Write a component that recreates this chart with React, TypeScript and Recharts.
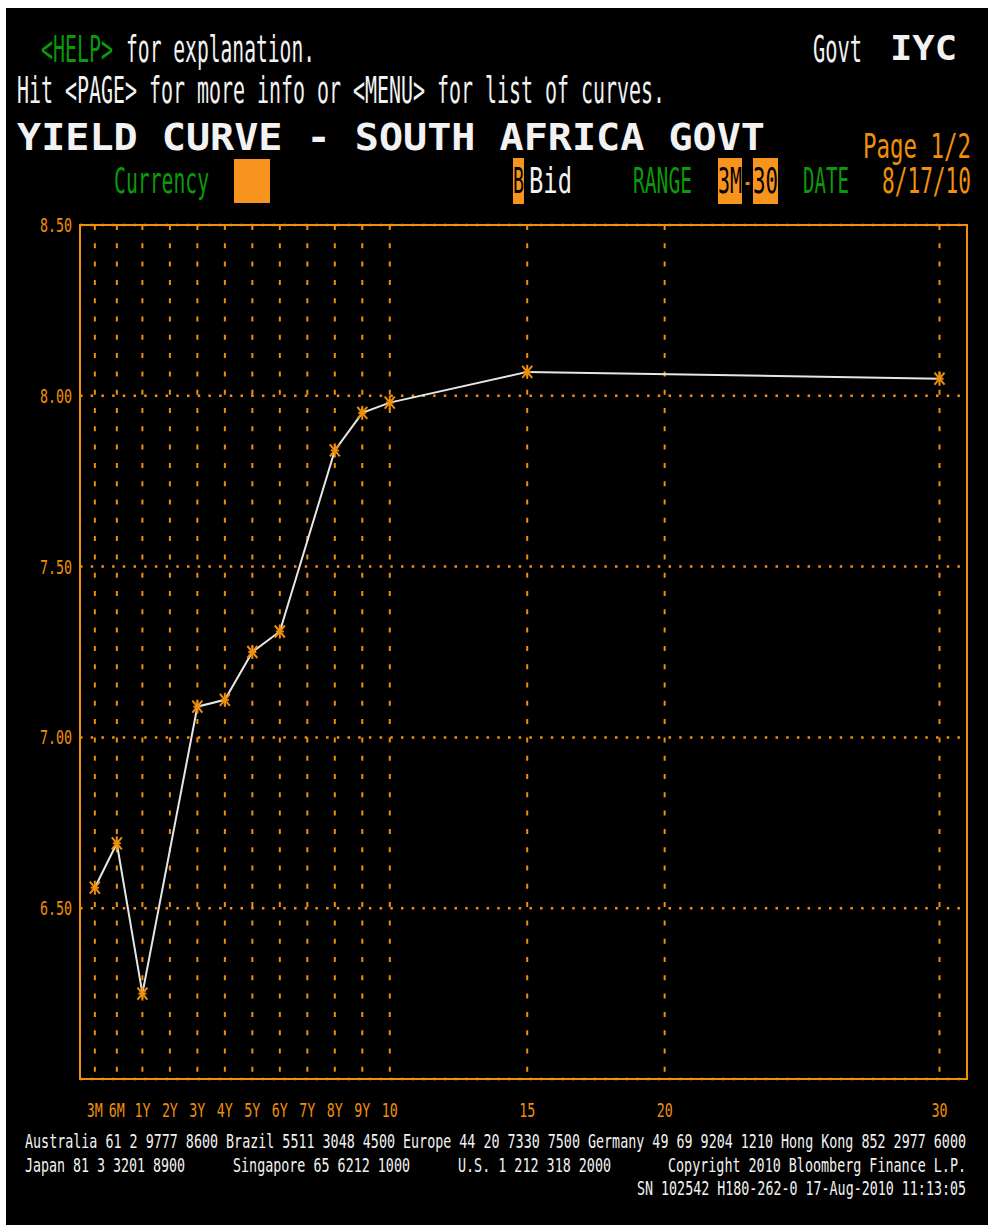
import React from 'react';
import { LineChart, Line, XAxis, YAxis, CartesianGrid, ReferenceArea } from 'recharts';

// Tenors on the Bloomberg IYC axis (axis position in years-equivalent)
const tenorLabels = ['3M', '6M', '1Y', '2Y', '3Y', '4Y', '5Y', '6Y', '7Y', '8Y', '9Y', '10', '15', '20', '30'];
const tenorPos = [-0.73, 0.07, 1, 2, 3, 4, 5, 6, 7, 8, 9, 10, 15, 20, 30];
// Bid yields, South Africa govt, 8/17/10 (null = no bond at that tenor)
const bidYield: (number | null)[] = [6.56, 6.69, 6.25, null, 7.09, 7.11, 7.25, 7.31, null, 7.84, 7.95, 7.98, 8.07, null, 8.05];

const yTicks = [6.5, 7.0, 7.5, 8.0, 8.5];
const xDomain = [-1.27, 31];
const yDomain = [6.0, 8.5];

const ORANGE = '#ef8f0c';
const BOX = '#f7941d';
const GREEN = '#0a9a0a';
const WHITE = '#f2f2f2';
const MONO = '"DejaVu Sans Mono", "Liberation Mono", monospace';

const data = tenorPos.map((pos, i) => ({ pos, label: tenorLabels[i], bid: bidYield[i] }));

// text squeezed into a known width, like the terminal font
const T = ({ x, y, w, size, color, bold, children }: any) => (
  <text
    x={x}
    y={y}
    textLength={w}
    lengthAdjust="spacingAndGlyphs"
    fontFamily={MONO}
    fontSize={size}
    fontWeight={bold ? 'bold' : 'normal'}
    fill={color}
  >
    {children}
  </text>
);

const Star = (props: any) => {
  const { cx, cy, payload } = props;
  if (payload.bid == null || cx == null) return null;
  return (
    <g stroke={ORANGE} strokeWidth={2}>
      <line x1={cx} y1={cy - 7} x2={cx} y2={cy + 7} />
      <line x1={cx - 5} y1={cy - 6} x2={cx + 5} y2={cy + 6} />
      <line x1={cx + 5} y1={cy - 6} x2={cx - 5} y2={cy + 6} />
      <line x1={cx - 4} y1={cy} x2={cx + 4} y2={cy} />
    </g>
  );
};

const XTick = ({ x, y, payload }: any) => {
  const label = tenorLabels[tenorPos.indexOf(payload.value)];
  return (
    <text
      x={x}
      y={y + 38}
      textAnchor="middle"
      textLength={label.length * 8}
      lengthAdjust="spacingAndGlyphs"
      fontFamily={MONO}
      fontSize={19}
      fill={ORANGE}
    >
      {label}
    </text>
  );
};

const YTick = ({ x, y, payload }: any) => (
  <text
    x={x - 8}
    y={y + 7}
    textAnchor="end"
    textLength={32}
    lengthAdjust="spacingAndGlyphs"
    fontFamily={MONO}
    fontSize={19}
    fill={ORANGE}
  >
    {payload.value.toFixed(2)}
  </text>
);

export default function App() {
  return (
    <div style={{ position: 'absolute', left: 0, top: 0, width: 988, height: 1225, background: '#fff' }}>
      <div style={{ position: 'absolute', left: 6, top: 8, width: 982, height: 1217, background: '#000' }} />
      <div style={{ position: 'absolute', left: 0, top: 0 }}>
        <LineChart width={988} height={1225} data={data} margin={{ top: 225, right: 21, bottom: 116, left: 20 }}>
          <CartesianGrid horizontal={false} stroke={ORANGE} strokeWidth={2} strokeDasharray="5 13.3" />
          <CartesianGrid vertical={false} stroke={ORANGE} strokeWidth={2.5} strokeDasharray="2.5 8.2" />
          <XAxis
            dataKey="pos"
            type="number"
            domain={xDomain}
            ticks={tenorPos}
            interval={0}
            axisLine={false}
            tickLine={false}
            tickSize={0}
            tickMargin={0}
            height={30}
            tick={<XTick />}
          />
          <YAxis
            type="number"
            domain={yDomain}
            ticks={yTicks}
            axisLine={false}
            tickLine={false}
            tickSize={0}
            tickMargin={0}
            width={60}
            tick={<YTick />}
          />
          <ReferenceArea
            x1={xDomain[0]}
            x2={xDomain[1]}
            y1={yDomain[0]}
            y2={yDomain[1]}
            fill="none"
            stroke={ORANGE}
            strokeWidth={2}
            fillOpacity={0}
          />
          <Line
            dataKey="bid"
            type="linear"
            stroke="#e6e6e6"
            strokeWidth={2}
            connectNulls
            dot={<Star />}
            activeDot={false}
            isAnimationActive={false}
          />
        </LineChart>
      </div>
      <svg width={988} height={1225} style={{ position: 'absolute', left: 0, top: 0, pointerEvents: 'none' }}>
        <T x={41} y={62} w={72} size={38} color={GREEN}>{'<HELP>'}</T>
        <T x={126} y={62} w={189} size={38} color={WHITE}>for explanation.</T>
        <T x={813} y={62} w={49} size={38} color={WHITE}>Govt</T>
        <T x={890} y={60} w={67} size={34} color={WHITE} bold>IYC</T>

        <T x={17} y={103} w={648} size={38} color={WHITE}>Hit {'<PAGE>'} for more info or {'<MENU>'} for list of curves.</T>

        <T x={17} y={150} w={748} size={37} color={WHITE} bold>YIELD CURVE - SOUTH AFRICA GOVT</T>
        <T x={863} y={158} w={108} size={34} color={ORANGE}>Page 1/2</T>

        <T x={114} y={193} w={95} size={36} color={GREEN}>Currency</T>
        <rect x={234} y={159} width={36} height={44} fill={BOX} />
        <rect x={513} y={158} width={11} height={46} fill={BOX} />
        <T x={513} y={193} w={11} size={36} color="#000">B</T>
        <T x={529} y={193} w={43} size={36} color={WHITE}>Bid</T>
        <T x={633} y={193} w={59} size={36} color={GREEN}>RANGE</T>
        <rect x={718} y={158} width={24} height={46} fill={BOX} />
        <T x={718} y={193} w={24} size={36} color="#000">3M</T>
        <T x={743} y={193} w={9} size={36} color={ORANGE}>-</T>
        <rect x={753} y={158} width={25} height={46} fill={BOX} />
        <T x={753} y={193} w={25} size={36} color="#000">30</T>
        <T x={803} y={193} w={46} size={36} color={GREEN}>DATE</T>
        <T x={882} y={193} w={89} size={36} color={ORANGE}>8/17/10</T>

        <T x={25} y={1148} w={941} size={19} color={WHITE}>
          Australia 61 2 9777 8600 Brazil 5511 3048 4500 Europe 44 20 7330 7500 Germany 49 69 9204 1210 Hong Kong 852 2977 6000
        </T>
        <T x={25} y={1172} w={160} size={19} color={WHITE}>Japan 81 3 3201 8900</T>
        <T x={233} y={1172} w={177} size={19} color={WHITE}>Singapore 65 6212 1000</T>
        <T x={458} y={1172} w={153} size={19} color={WHITE}>U.S. 1 212 318 2000</T>
        <T x={668} y={1172} w={298} size={19} color={WHITE}>Copyright 2010 Bloomberg Finance L.P.</T>
        <T x={637} y={1195} w={329} size={19} color={WHITE}>SN 102542 H180-262-0 17-Aug-2010 11:13:05</T>
      </svg>
    </div>
  );
}
